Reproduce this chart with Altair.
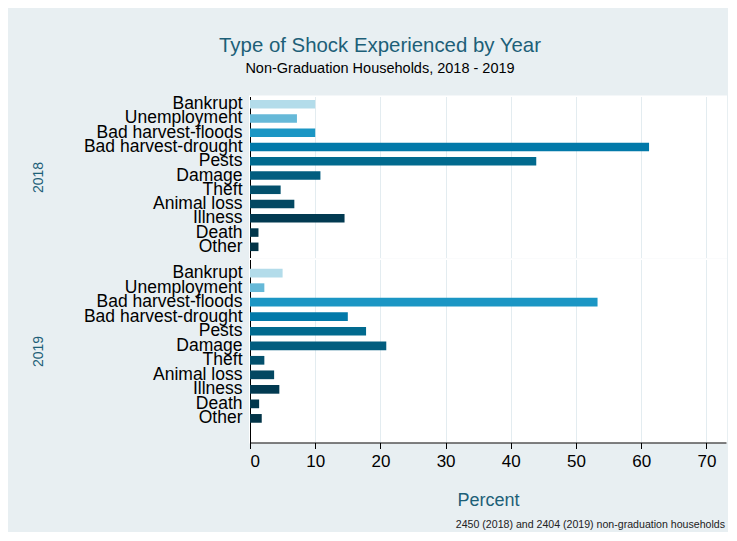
import altair as alt
import pandas as pd

categories = ["Bankrupt", "Unemployment", "Bad harvest-floods", "Bad harvest-drought",
              "Pests", "Damage", "Theft", "Animal loss", "Illness", "Death", "Other"]
pct_2018 = [10.0, 7.2, 10.0, 61.2, 43.9, 10.8, 4.7, 6.8, 14.5, 1.3, 1.3]
pct_2019 = [5.0, 2.2, 53.3, 15.0, 17.8, 20.9, 2.2, 3.7, 4.5, 1.4, 1.8]
bar_colors = ["#b3dcea", "#66b9d8", "#1b96c4", "#0279a9", "#016a8e", "#025d7f",
              "#03506c", "#034862", "#023a51", "#02374c", "#023447"]
years = ["2018", "2019"]
x_ticks = [0, 10, 20, 30, 40, 50, 60, 70]

rows = []
for yr, vals in zip(years, [pct_2018, pct_2019]):
    for c, v in zip(categories, vals):
        rows.append({"year": yr, "shock": c, "pct": v})
df = pd.DataFrame(rows)

TEAL = "#1d5f78"
FONT = "Liberation Sans"
GRID = "#e3ecf0"


def panel(yr, height, pad_outer, align, bottom):
    if bottom:
        x_axis = alt.Axis(values=x_ticks, grid=True, gridColor=GRID, domainColor="black",
                          tickColor="black", tickSize=6, labelFontSize=17, labelColor="black",
                          labelFont=FONT, labelPadding=5, titleFont=FONT, titleFontSize=18,
                          titleColor=TEAL, titleFontWeight="normal", titlePadding=22)
        x_enc = alt.X("pct:Q", title="Percent", axis=x_axis,
                      scale=alt.Scale(domain=[0, 73], nice=False))
    else:
        x_axis = alt.Axis(values=x_ticks, grid=True, gridColor=GRID, domain=False,
                          ticks=False, labels=False, orient="top")
        x_enc = alt.X("pct:Q", title=None, axis=x_axis,
                      scale=alt.Scale(domain=[0, 73], nice=False))
    y_axis = alt.Axis(ticks=False, domainColor="black", labelFontSize=17.5, labelColor="black",
                      labelFont=FONT, labelPadding=8, titleFont=FONT, titleFontSize=14,
                      titleColor=TEAL, titleFontWeight="normal", titleX=-205, grid=False)
    ch = alt.Chart(df).transform_filter(alt.datum.year == yr).mark_bar().encode(
        x=x_enc,
        y=alt.Y("shock:N", sort=categories, title=yr, axis=y_axis,
                scale=alt.Scale(paddingInner=0.4, paddingOuter=pad_outer, align=align)),
        color=alt.Color("shock:N", scale=alt.Scale(domain=categories, range=bar_colors),
                        legend=None),
    ).properties(width=476, height=height)
    if bottom:
        ch = ch.properties(title=alt.TitleParams(
            text="2450 (2018) and 2404 (2019) non-graduation households",
            orient="bottom", anchor="end", font=FONT, fontSize=10.6, color="#222222",
            fontWeight="normal", offset=10, dx=-1))
    return ch


c1 = panel("2018", 161, 0.345, 0.35, False)
c2 = panel("2019", 183, 1.0, 0.32, True)

chart = alt.vconcat(c1, c2, spacing=0).properties(
    title=alt.TitleParams(
        text="Type of Shock Experienced by Year",
        subtitle="Non-Graduation Households, 2018 - 2019",
        font=FONT, fontSize=20.4, color=TEAL, fontWeight="normal",
        subtitleFont=FONT, subtitleFontSize=14.5, subtitleColor="black",
        subtitlePadding=6, anchor="middle", offset=18, dx=1.5),
    background="#e8eff2",
    padding={"left": 22, "top": 27.5, "right": 1, "bottom": 0},
).configure_view(fill="white", stroke="white", strokeWidth=2)

chart.save("out.html", embed_options={"renderer": "svg", "actions": False})
